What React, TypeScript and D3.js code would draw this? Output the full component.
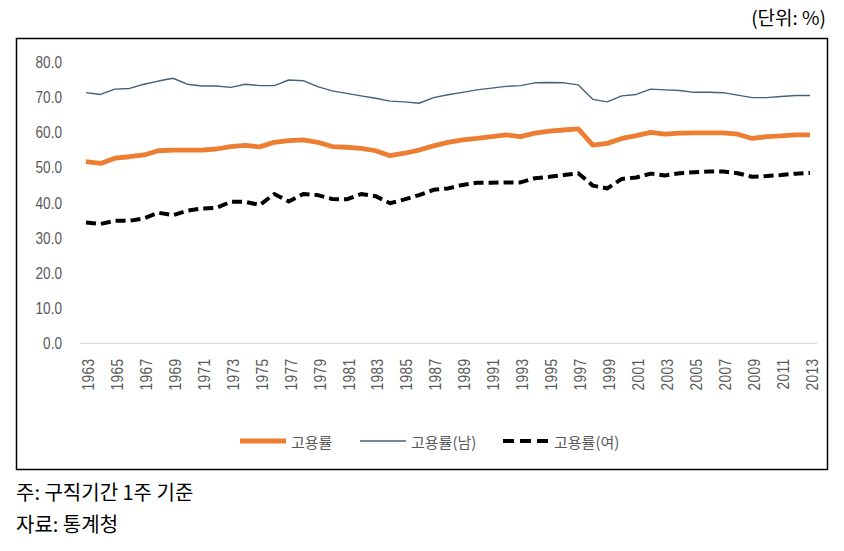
import React from "react";
import * as d3 from "d3";

const years = [
  "1963","1964","1965","1966","1967","1968","1969","1970","1971","1972",
  "1973","1974","1975","1976","1977","1978","1979","1980","1981","1982",
  "1983","1984","1985","1986","1987","1988","1989","1990","1991","1992",
  "1993","1994","1995","1996","1997","1998","1999","2000","2001","2002",
  "2003","2004","2005","2006","2007","2008","2009","2010","2011","2012","2013",
];

const totalRate = [
  51.6, 51.1, 52.6, 53.0, 53.5, 54.7, 54.9, 54.9, 54.9, 55.2,
  55.9, 56.2, 55.8, 57.1, 57.6, 57.8, 57.1, 55.9, 55.7, 55.4,
  54.7, 53.3, 54.0, 54.9, 56.1, 57.1, 57.8, 58.2, 58.7, 59.2,
  58.7, 59.7, 60.3, 60.6, 60.9, 56.3, 56.8, 58.2, 59.0, 59.9,
  59.4, 59.7, 59.8, 59.8, 59.8, 59.4, 58.2, 58.7, 58.9, 59.2, 59.2,
];

const maleRate = [
  71.2, 70.7, 72.2, 72.4, 73.6, 74.5, 75.3, 73.6, 73.1, 73.1,
  72.7, 73.6, 73.2, 73.2, 74.8, 74.6, 72.9, 71.7, 71.0, 70.3,
  69.6, 68.8, 68.6, 68.2, 69.8, 70.6, 71.3, 72.0, 72.5, 73.0,
  73.2, 74.0, 74.1, 74.0, 73.4, 69.3, 68.6, 70.3, 70.7, 72.2,
  72.0, 71.8, 71.3, 71.3, 71.2, 70.5, 69.8, 69.8, 70.1, 70.4, 70.4,
];

const femaleRate = [
  34.3, 33.9, 34.8, 34.8, 35.5, 37.1, 36.4, 37.7, 38.3, 38.5,
  40.2, 40.2, 39.3, 42.4, 40.3, 42.4, 42.1, 41.0, 40.9, 42.4,
  41.8, 39.8, 40.9, 42.1, 43.6, 44.0, 45.0, 45.6, 45.6, 45.7,
  45.7, 46.9, 47.3, 47.8, 48.3, 44.8, 44.0, 46.7, 47.1, 48.2,
  47.7, 48.3, 48.6, 48.8, 48.8, 48.3, 47.3, 47.5, 47.8, 48.2, 48.4,
];

const xTickLabels = [
  "1963","1965","1967","1969","1971","1973","1975","1977","1979","1981",
  "1983","1985","1987","1989","1991","1993","1995","1997","1999","2001",
  "2003","2005","2007","2009","2011","2013",
];

const yTicks = [0, 10, 20, 30, 40, 50, 60, 70, 80];

const seriesNames = ["고용률", "고용률(남)", "고용률(여)"];

const unitLabel = "(단위: %)";
const note1 = "주: 구직기간 1주 기준";
const note2 = "자료: 통계청";

const ORANGE = "#ED7D31";
const MALE = "#44607A";
const FEMALE = "#000000";
const GRAY = "#595959";
const KFONT = "'Noto Sans CJK KR', 'Noto Sans', sans-serif";
const NFONT = "'Liberation Sans', Arial, sans-serif";

export default function App() {
  const W = 844;
  const H = 551;
  const x = d3.scalePoint<string>().domain(years).range([86, 810]);
  const y = d3.scaleLinear().domain([0, 80]).range([343.3, 61.7]);

  const line = d3
    .line<number>()
    .x((_, i) => x(years[i]) as number)
    .y((d) => y(d));

  const series = [
    { name: seriesNames[0], data: totalRate, color: ORANGE, width: 4.8, dash: undefined as string | undefined },
    { name: seriesNames[1], data: maleRate, color: MALE, width: 1.4, dash: undefined },
    { name: seriesNames[2], data: femaleRate, color: FEMALE, width: 4, dash: "10,5" },
  ];

  const legendX = [240, 360, 503];
  const legendY = 441;

  return (
    <svg
      width={W}
      height={H}
      viewBox={`0 0 ${W} ${H}`}
      style={{ position: "absolute", left: 0, top: 0, background: "#fff" }}
    >
      <rect x={0} y={0} width={W} height={H} fill="#fff" />
      <text x={826} y={25} textAnchor="end" fontFamily={KFONT} fontSize={19} fill="#000">
        {unitLabel}
      </text>
      <rect x={16.5} y={38.5} width={811} height={431} fill="none" stroke="#000" strokeWidth={1.5} />

      {/* y axis labels */}
      {yTicks.map((t) => (
        <text
          key={t}
          transform={`translate(62,${y(t)}) scale(0.8,1)`}
          textAnchor="end"
          dominantBaseline="central"
          fontFamily={NFONT}
          fontSize={17}
          fill={GRAY}
        >
          {t.toFixed(1)}
        </text>
      ))}

      {/* baseline */}
      <line x1={80} x2={817} y1={y(0)} y2={y(0)} stroke="#D9D9D9" strokeWidth={1.2} />

      {/* x labels */}
      {xTickLabels.map((lab) => (
        <text
          key={lab}
          transform={`translate(${(x(lab) as number) + 2},${y(0) + 15}) rotate(-90) scale(0.86,1)`}
          textAnchor="end"
          dominantBaseline="central"
          fontFamily={NFONT}
          fontSize={16}
          letterSpacing={0.5}
          fill={GRAY}
        >
          {lab}
        </text>
      ))}

      {/* lines */}
      {series.map((s) => (
        <path
          key={s.name}
          d={line(s.data) as string}
          fill="none"
          stroke={s.color}
          strokeWidth={s.width}
          strokeDasharray={s.dash}
          strokeLinejoin="round"
        />
      ))}

      {/* legend */}
      {series.map((s, i) => (
        <g key={s.name}>
          <line
            x1={legendX[i]}
            x2={legendX[i] + 46}
            y1={legendY}
            y2={legendY}
            stroke={s.color}
            strokeWidth={s.width}
            strokeDasharray={s.dash ? "11,6" : undefined}
          />
          <text
            x={legendX[i] + 51}
            y={legendY}
            dominantBaseline="central"
            fontFamily={KFONT}
            fontSize={15}
            fill={GRAY}
          >
            {s.name}
          </text>
        </g>
      ))}

      <text x={16} y={491} dominantBaseline="central" fontFamily={KFONT} fontSize={20} fill="#000">
        {note1}
      </text>
      <text x={16} y={523} dominantBaseline="central" fontFamily={KFONT} fontSize={20} fill="#000">
        {note2}
      </text>
    </svg>
  );
}
